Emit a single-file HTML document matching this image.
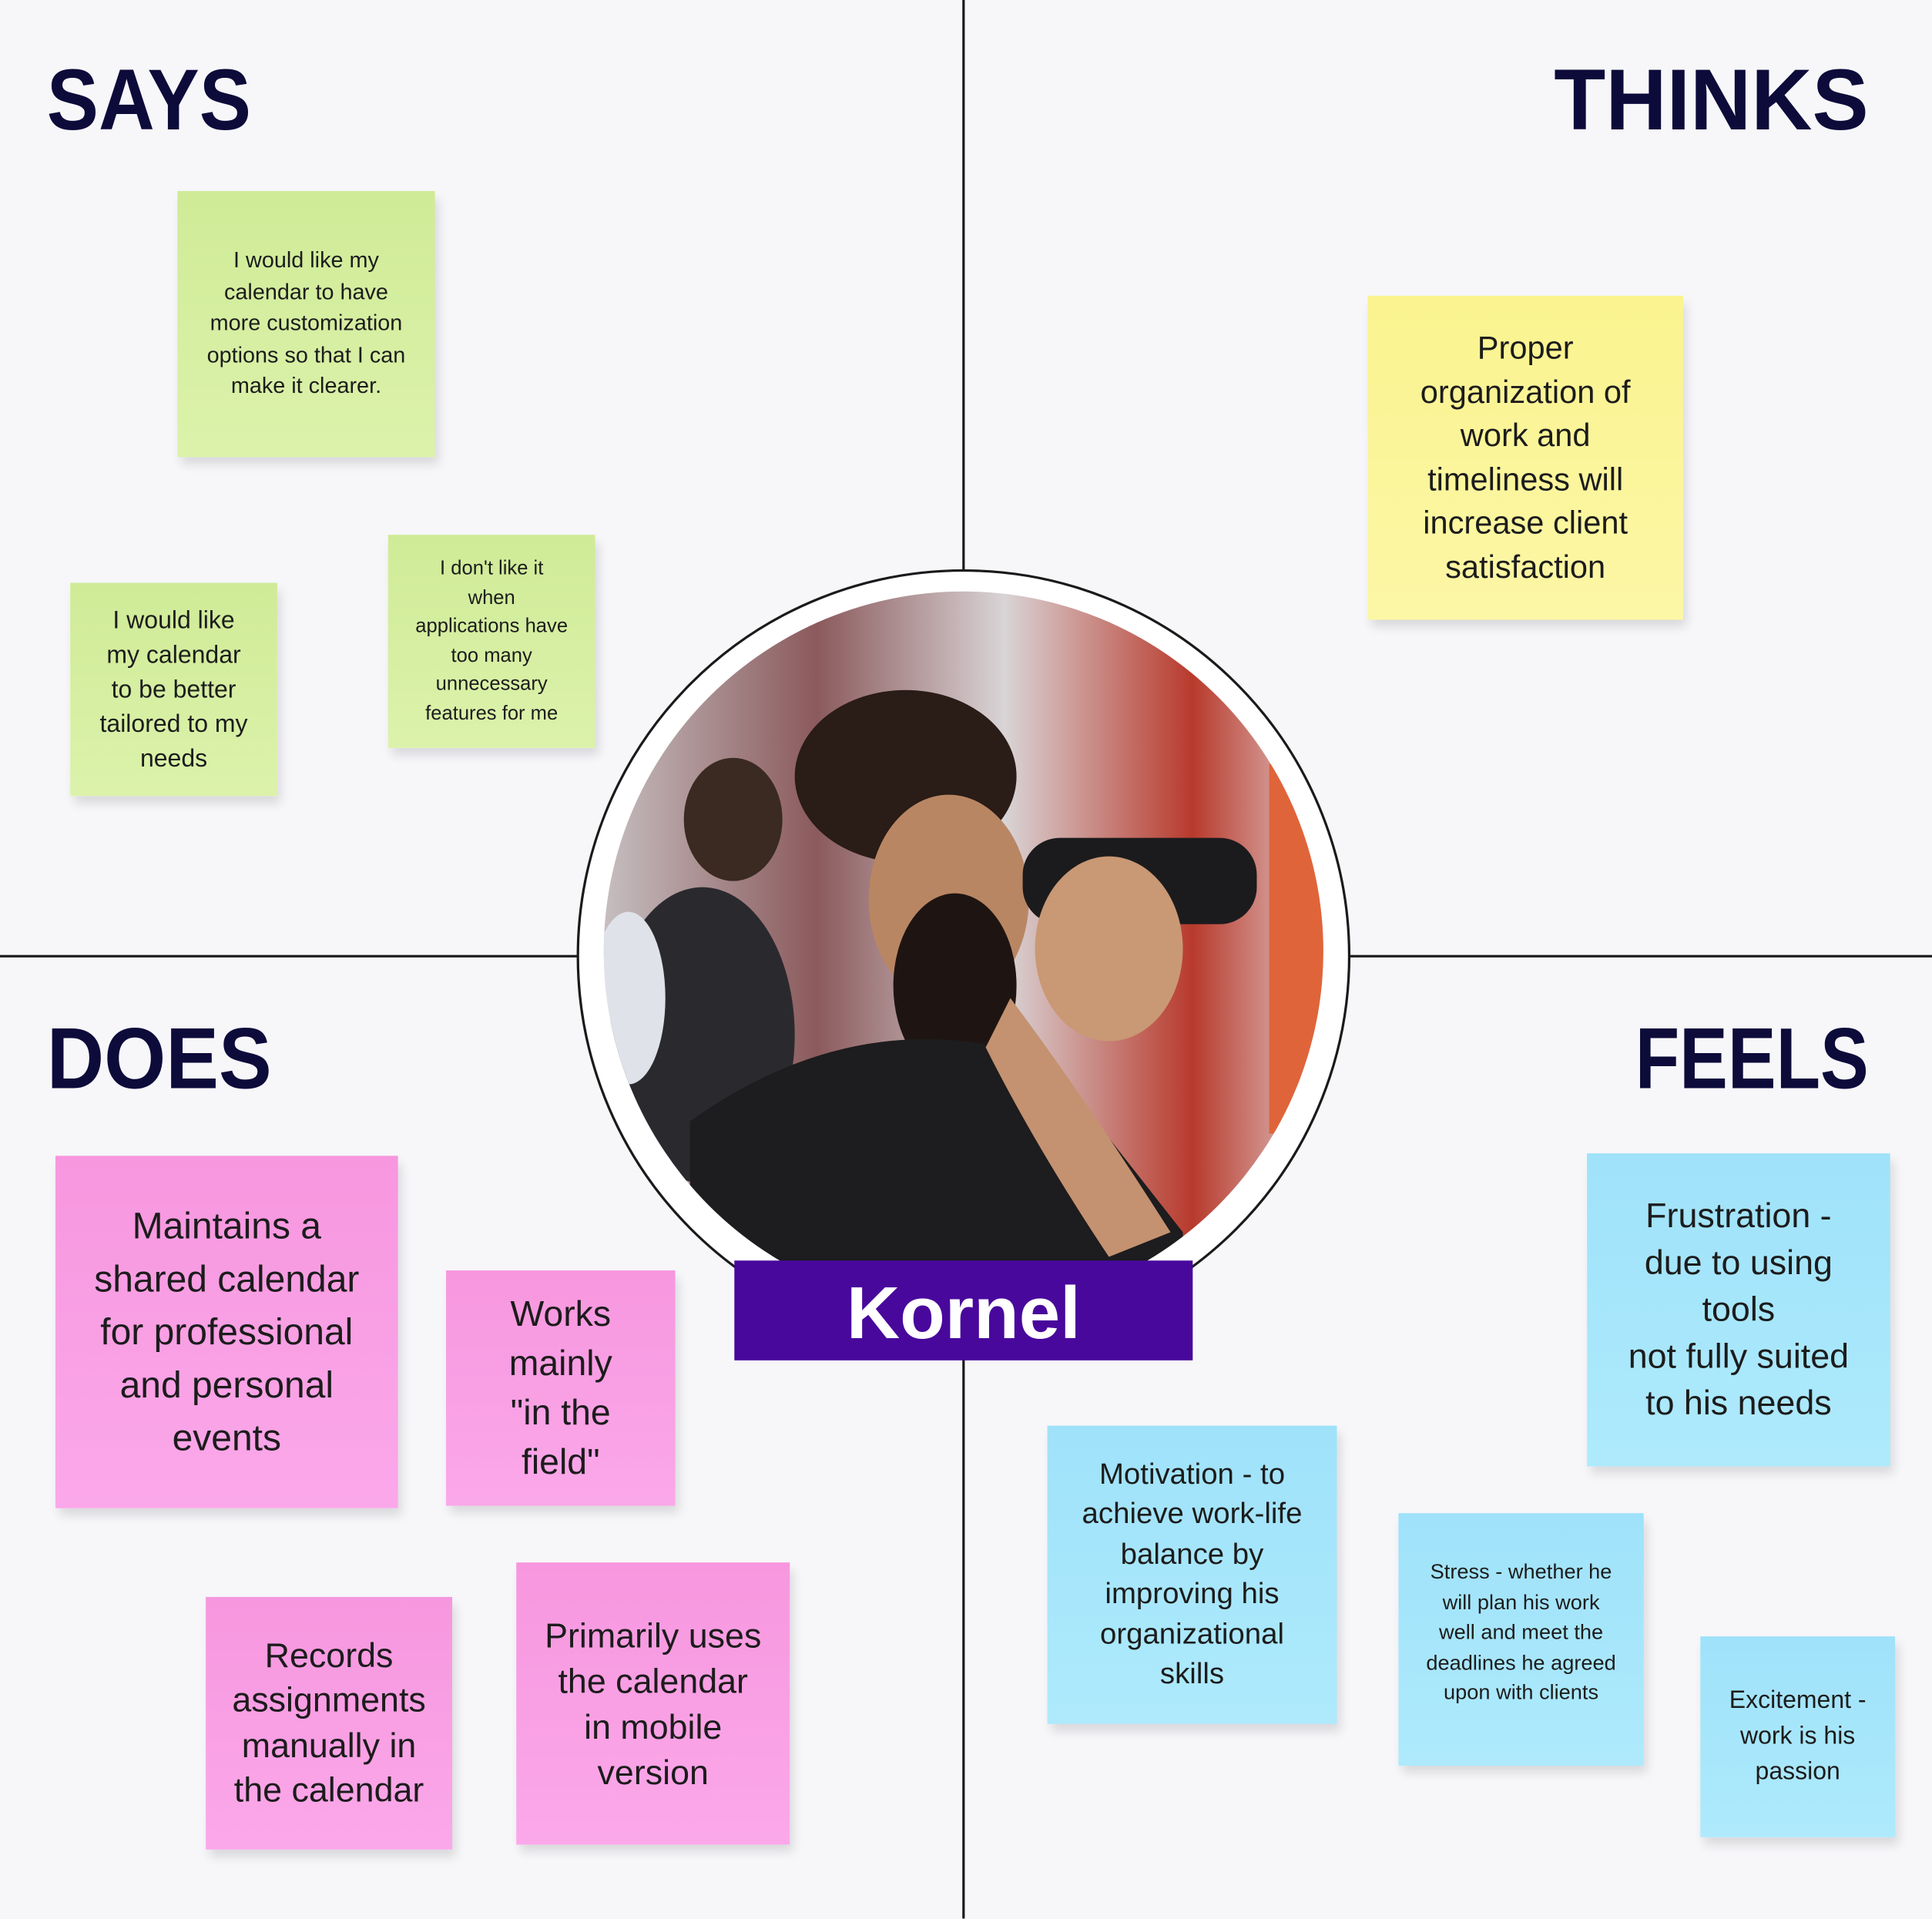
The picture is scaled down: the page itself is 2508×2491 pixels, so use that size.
<!DOCTYPE html>
<html><head><meta charset="utf-8">
<style>
html,body{margin:0;padding:0;background:#f7f7fa;}
body{width:2508px;height:2491px;overflow:hidden;position:relative;}
#w{position:absolute;left:0;top:0;width:1568px;height:1557px;transform:scale(1.5995);transform-origin:0 0;background:#f7f7fa;font-family:"Liberation Sans",sans-serif;}
.t{position:absolute;font-weight:bold;color:#0d0b3a;font-size:70px;line-height:1;letter-spacing:0;}
.s{position:absolute;display:flex;align-items:center;justify-content:center;text-align:center;color:#1c1c1c;box-shadow:3px 6px 8px rgba(0,0,0,0.12);box-sizing:border-box;padding:0;white-space:nowrap;}
.g{background:linear-gradient(#cfeb97,#dcf2ab);}
.y{background:linear-gradient(#faf38f,#fcf7a6);}
.p{background:linear-gradient(#f797df,#fba8ea);}
.b{background:linear-gradient(#9fe2fa,#aeeafc);}
.line{position:absolute;background:#1a1a1a;}
</style></head><body><div id="w">
<div class="line" style="left:781px;top:0;width:2px;height:1557px"></div>
<div class="line" style="left:0;top:775px;width:1568px;height:2px"></div>

<div class="t" style="left:38px;top:46px;transform:scaleX(0.9);transform-origin:0 0">SAYS</div>
<div class="t" style="right:51px;top:46px;transform:scaleX(0.98);transform-origin:100% 0">THINKS</div>
<div class="t" style="left:38px;top:824px;transform:scaleX(0.92);transform-origin:0 0">DOES</div>
<div class="t" style="right:51px;top:824px;transform:scaleX(0.84);transform-origin:100% 0">FEELS</div>

<div class="s g" style="left:144px;top:155px;width:209px;height:216px;font-size:18px;line-height:25.5px">I would like my<br>calendar to have<br>more customization<br>options so that I can<br>make it clearer.</div>
<div class="s g" style="left:57px;top:473px;width:168px;height:173px;font-size:20px;line-height:28px">I would like<br>my calendar<br>to be better<br>tailored to my<br>needs</div>
<div class="s g" style="left:315px;top:434px;width:168px;height:173px;font-size:16px;line-height:23.5px">I don't like it<br>when<br>applications have<br>too many<br>unnecessary<br>features for me</div>

<div class="s y" style="left:1110px;top:240px;width:256px;height:263px;font-size:26px;line-height:35.5px">Proper<br>organization of<br>work and<br>timeliness will<br>increase client<br>satisfaction</div>

<div class="s p" style="left:45px;top:938px;width:278px;height:286px;font-size:30px;line-height:43px">Maintains a<br>shared calendar<br>for professional<br>and personal<br>events</div>
<div class="s p" style="left:362px;top:1031px;width:186px;height:191px;font-size:29px;line-height:40px">Works<br>mainly<br>"in the<br>field"</div>
<div class="s p" style="left:167px;top:1296px;width:200px;height:205px;font-size:28px;line-height:36.5px">Records<br>assignments<br>manually in<br>the calendar</div>
<div class="s p" style="left:419px;top:1268px;width:222px;height:229px;font-size:28px;line-height:37px">Primarily uses<br>the calendar<br>in mobile<br>version</div>

<div class="s b" style="left:1288px;top:936px;width:246px;height:254px;font-size:28px;line-height:38px">Frustration -<br>due to using<br>tools<br>not fully suited<br>to his needs</div>
<div class="s b" style="left:850px;top:1157px;width:235px;height:242px;font-size:24px;line-height:32.5px">Motivation - to<br>achieve work-life<br>balance by<br>improving his<br>organizational<br>skills</div>
<div class="s b" style="left:1135px;top:1228px;width:199px;height:205px;font-size:17px;line-height:24.5px;padding-bottom:10px">Stress - whether he<br>will plan his work<br>well and meet the<br>deadlines he agreed<br>upon with clients</div>
<div class="s b" style="left:1380px;top:1328px;width:158px;height:163px;font-size:20px;line-height:29px">Excitement -<br>work is his<br>passion</div>

<svg style="position:absolute;left:0;top:0" width="1568" height="1557">
<defs><clipPath id="c"><circle cx="782" cy="772" r="292"/></clipPath>
<linearGradient id="bg" x1="0" y1="0" x2="1" y2="0"><stop offset="0" stop-color="#c9c4c6"/><stop offset=".3" stop-color="#8b5a5c"/><stop offset=".55" stop-color="#d9d4d6"/><stop offset=".8" stop-color="#b83a2c"/><stop offset="1" stop-color="#e8e4e6"/></linearGradient></defs>
<circle cx="782" cy="776" r="313" fill="#fff" stroke="#1a1a1a" stroke-width="2"/>
<g clip-path="url(#c)">
<rect x="480" y="470" width="610" height="620" fill="url(#bg)"/>
<rect x="1030" y="620" width="60" height="300" fill="#e0643a"/>
<ellipse cx="595" cy="665" rx="40" ry="50" fill="#3a2a22"/>
<ellipse cx="570" cy="840" rx="75" ry="120" fill="#2a2a2e"/>
<ellipse cx="510" cy="810" rx="30" ry="70" fill="#dfe2e8"/>
<ellipse cx="735" cy="630" rx="90" ry="70" fill="#2a1c16"/>
<ellipse cx="770" cy="730" rx="65" ry="85" fill="#b98664"/>
<ellipse cx="775" cy="800" rx="50" ry="75" fill="#1e1512"/>
<rect x="830" y="680" width="190" height="70" rx="30" fill="#1b1b1d"/>
<ellipse cx="900" cy="770" rx="60" ry="75" fill="#c99874"/>
<path d="M560 910 Q700 810 850 860 L960 1000 L960 1080 L560 1080Z" fill="#1d1c1e"/>
<path d="M820 810 Q880 890 950 1000 L900 1020 Q840 930 800 850Z" fill="#c49270"/>
</g>
<rect x="596" y="1023" width="372" height="81" fill="#48089c"/>
<text x="782" y="1086" text-anchor="middle" font-family="Liberation Sans, sans-serif" font-weight="bold" font-size="60" fill="#fff">Kornel</text>
</svg>
</div></body></html>
